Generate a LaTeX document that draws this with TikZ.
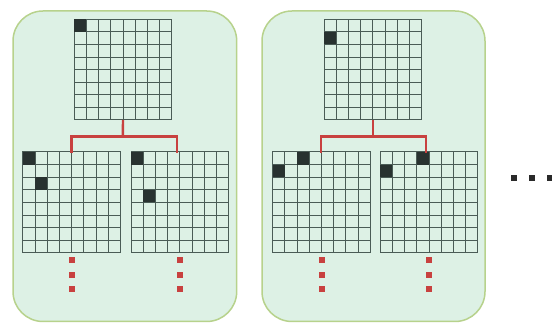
\documentclass[tikz,border=0pt]{standalone}
\usetikzlibrary{calc}
\definecolor{panelfill}{HTML}{DDF1E5}
\definecolor{panelborder}{HTML}{B7D28C}
\definecolor{gridcol}{HTML}{4A5C56}
\definecolor{cellcol}{HTML}{283230}
\definecolor{redcol}{HTML}{C8413F}
\definecolor{dotcol}{HTML}{2A2A2A}
\tikzset{
  panel/.style={draw=panelborder, line width=1.5pt, fill=panelfill, rounded corners=30pt, inner sep=0pt, outer sep=0pt, anchor=north west},
  gridbox/.style={draw=gridcol, line width=1pt, inner sep=0pt, outer sep=0pt, anchor=north west, minimum width=97.6pt, minimum height=100.8pt},
  gridline/.style={draw=gridcol, line width=0.9pt},
  cellfill/.style={fill=cellcol},
  redline/.style={draw=redcol, line width=2.4pt},
  reddot/.style={fill=redcol, inner sep=0pt, outer sep=0pt, minimum size=6pt},
  moredot/.style={fill=dotcol, inner sep=0pt, outer sep=0pt, minimum size=5.7pt}
}
\newcommand{\mygrid}[3]{%
  \node[gridbox] (#1) at (#2,#3) {};
  \foreach \k in {1,...,7}{%
    \draw[gridline] ($(#1.north west)!\k/8!(#1.north east)$) -- ($(#1.south west)!\k/8!(#1.south east)$);
    \draw[gridline] ($(#1.north west)!\k/8!(#1.south west)$) -- ($(#1.north east)!\k/8!(#1.south east)$);
  }%
}
\newcommand{\mycell}[3]{%
  \fill[cellfill] ($(#1.north west)+(#3*12.2,#2*12.6)$) rectangle ++(12.2,12.6);
}
\begin{document}
\begin{tikzpicture}[x=1pt,y=-1pt]
\clip (0,0) rectangle (552,323);
\fill[white] (0,0) rectangle (552,323);
% panels
\node[panel, minimum width=223.7pt, minimum height=310.5pt] (panelA) at (13,11) {};
\node[panel, minimum width=223pt, minimum height=310.5pt] (panelB) at (262,11) {};
% panel A grids
\mygrid{atop}{74.2}{19.2}
\mygrid{aleft}{22.8}{152}
\mygrid{aright}{131}{152}
% panel B grids
\mygrid{btop}{324}{19.2}
\mygrid{bleft}{272.7}{152}
\mygrid{bright}{380.2}{152}
% black cells
\mycell{atop}{0}{0}
\mycell{aleft}{0}{0}
\mycell{aleft}{2}{1}
\mycell{aright}{0}{0}
\mycell{aright}{3}{1}
\mycell{btop}{1}{0}
\mycell{bleft}{0}{2}
\mycell{bleft}{1}{0}
\mycell{bright}{0}{3}
\mycell{bright}{1}{0}
% red connectors
\coordinate (ja) at (122.8,136.7);
\draw[redline] (atop.south) -- (ja);
\draw[redline] ($(aleft.north)+(-0.3,1)$) |- (ja) -| ($(aright.north)+(-2.8,1)$);
\coordinate (jb) at (372.8,136.7);
\draw[redline] (btop.south) -- (jb);
\draw[redline] ($(bleft.north)+(-0.4,1)$) |- (jb) -| ($(bright.north)+(-2.8,1)$);
% red dots
\foreach \g/\n in {aleft/a1, aright/a2, bleft/b1, bright/b2}{
  \node[reddot] (\n d1) at ($(\g.south)+(0,7)$) {};
  \node[reddot] (\n d2) at ($(\g.south)+(0,22)$) {};
  \node[reddot] (\n d3) at ($(\g.south)+(0,36.7)$) {};
}
% ellipsis
\node[moredot] (e1) at (513.8,178) {};
\node[moredot] (e2) at (532,178) {};
\node[moredot] (e3) at (550.2,178) {};
\end{tikzpicture}
\end{document}
